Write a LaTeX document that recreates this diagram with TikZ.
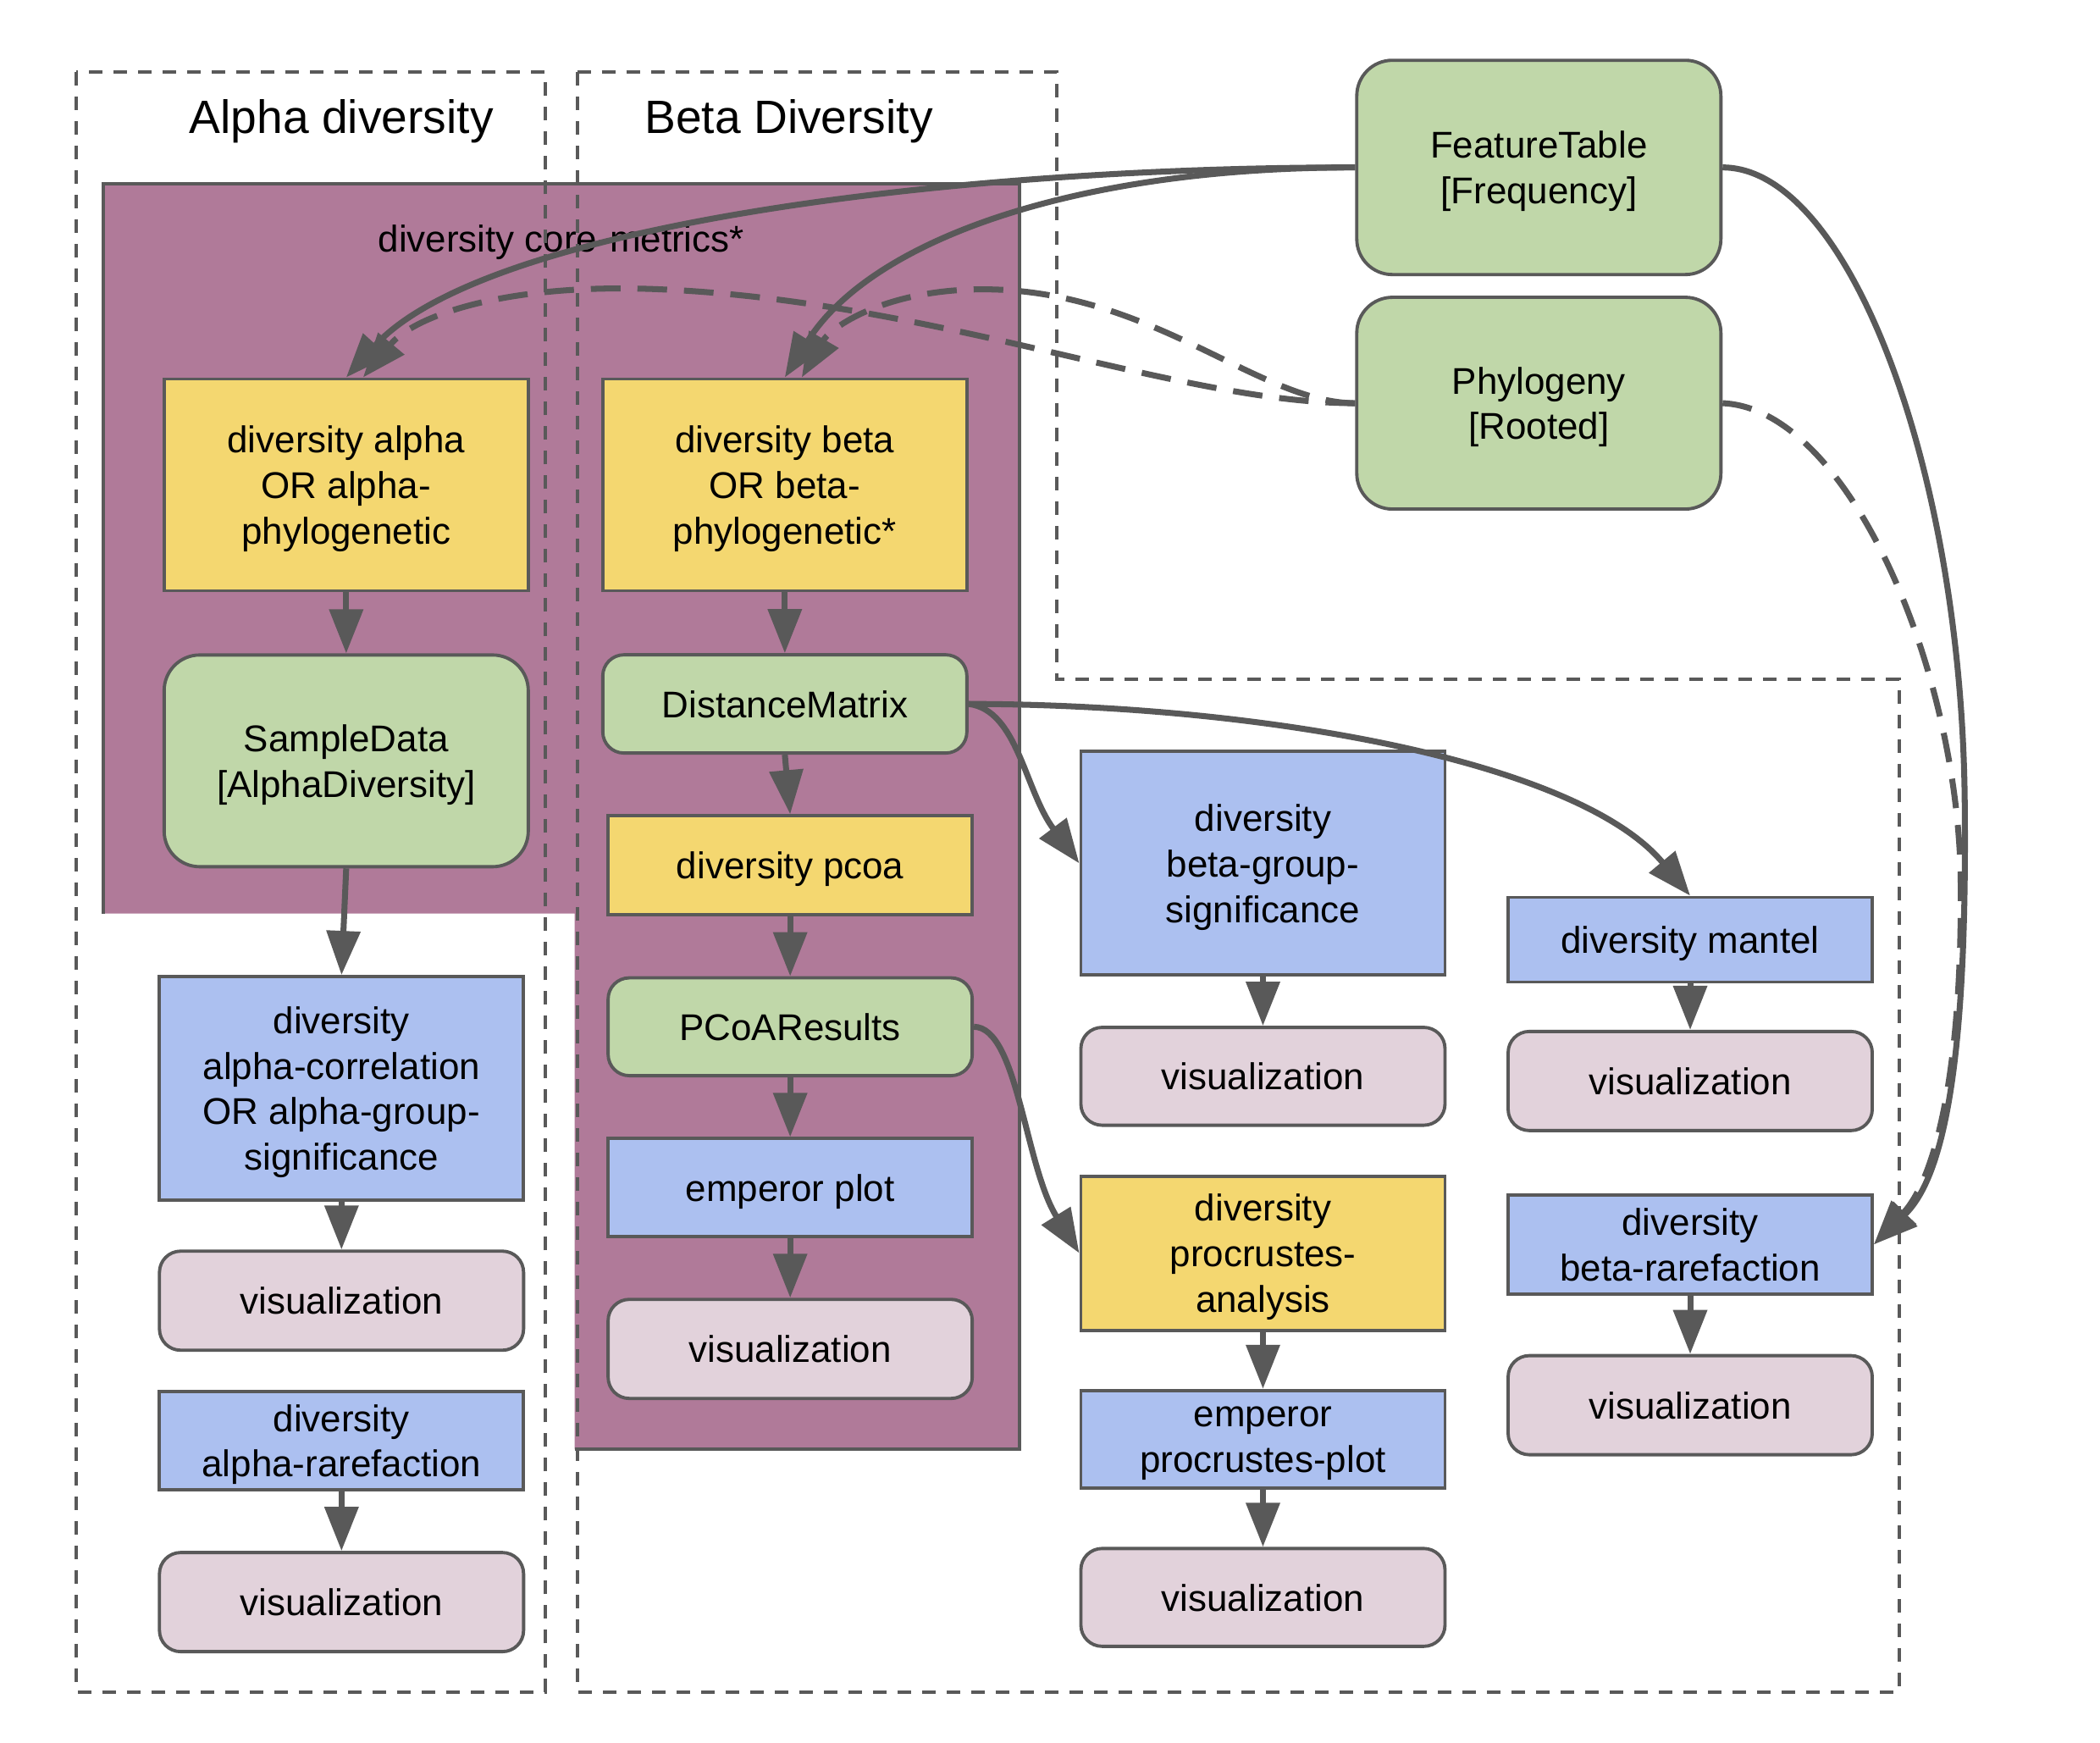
\documentclass[tikz,border=0pt]{standalone}
\usepackage{fontspec}
\setmainfont{Liberation Sans}
\usepackage{xcolor}
\usepackage{tikz}
\usetikzlibrary{arrows.meta}

\definecolor{linegray}{HTML}{595959}
\definecolor{coreviolet}{HTML}{B07A99}
\definecolor{artgreen}{HTML}{C0D7A9}
\definecolor{actyellow}{HTML}{F4D770}
\definecolor{visblue}{HTML}{ACC0F0}
\definecolor{vismauve}{HTML}{E2D2DB}
\newcommand{\boxfont}{\fontsize{12.5}{15.3}\selectfont}
\newcommand{\titlefont}{\fontsize{15.7}{18}\selectfont}

\begin{document}
\begin{tikzpicture}[x=1.5816mm, y=-1.5816mm,
	base/.style={draw=linegray, line width=1.1pt, font=\boxfont, align=center, inner sep=0pt, text depth=0pt, minimum width=4.3cm},
	artifact/.style={base, fill=artgreen, rounded corners=0.42cm},
	smallartifact/.style={base, fill=artgreen, rounded corners=0.25cm},
	action/.style={base, fill=actyellow},
	visaction/.style={base, fill=visblue},
	vis/.style={base, fill=vismauve, rounded corners=0.25cm, minimum height=1.17cm},
	grouptitle/.style={font=\titlefont, text depth=0pt},
	flow/.style={draw=linegray, line width=2pt, -{Triangle[length=5.2mm, width=3.9mm]}},
	optflow/.style={flow, dash pattern=on 3.5mm off 2mm},
	cluster/.style={draw=linegray, line width=1.1pt, dash pattern=on 1.6mm off 1.3mm}]
	\useasboundingbox (0,0) rectangle (156.8,130.1);

	% core-metrics block
	\fill[coreviolet] (7.7,13.7) -- (76.1,13.7) -- (76.1,108.2) -- (42.9,108.2) -- (42.9,68.2) -- (7.7,68.2) -- cycle;
	\draw[linegray, line width=1.1pt] (42.9,108.2) -- (76.1,108.2) -- (76.1,13.7) -- (7.7,13.7) -- (7.7,68.2);
	\node[font=\boxfont, text depth=0pt] (coretitle) at (41.9,17.8) {diversity core-metrics*};

	% Dashed groups
	\draw[cluster] (5.7,5.4) rectangle (40.7,126.3);
	\draw[cluster] (43.1,5.4) -- (78.9,5.4) -- (78.9,50.7) -- (141.8,50.7) -- (141.8,126.3) -- (43.1,126.3) -- cycle;
	\node[grouptitle] (alphatitle) at (25.5,8.7) {Alpha diversity};
	\node[grouptitle] (betatitle) at (58.9,8.7) {Beta Diversity};

	% Inputs
	\node[artifact, minimum height=2.53cm] (ft) at (114.9,12.5) {FeatureTable\\{[Frequency]}};
	\node[artifact, minimum height=2.5cm] (phylo) at (114.9,30.1) {Phylogeny\\{[Rooted]}};

	% Alpha column
	\node[action, minimum height=2.5cm] (alpha) at (25.85,36.2) {diversity alpha\\OR alpha-\\phylogenetic};
	\node[artifact, minimum height=2.5cm] (sample) at (25.85,56.8) {SampleData\\{[AlphaDiversity]}};
	\node[visaction, minimum height=2.64cm] (acorr) at (25.5,81.25) {diversity\\alpha-correlation\\OR alpha-group-\\significance};
	\node[vis] (visacorr) at (25.5,97.1) {visualization};
	\node[visaction, minimum height=1.155cm] (arare) at (25.5,107.55) {diversity\\alpha-rarefaction};
	\node[vis] (visarare) at (25.5,119.6) {visualization};

	% Beta column
	\node[action, minimum height=2.5cm] (beta) at (58.6,36.2) {diversity beta\\OR beta-\\phylogenetic*};
	\node[smallartifact, minimum height=1.16cm] (dm) at (58.6,52.55) {DistanceMatrix};
	\node[action, minimum height=1.17cm] (pcoa) at (59.0,64.6) {diversity pcoa};
	\node[smallartifact, minimum height=1.155cm] (pcoares) at (59.0,76.65) {PCoAResults};
	\node[visaction, minimum height=1.155cm] (emperor) at (59.0,88.65) {emperor plot};
	\node[vis] (visemperor) at (59.0,100.7) {visualization};

	% DistanceMatrix / PCoA consumers
	\node[visaction, minimum height=2.64cm] (bgs) at (94.3,64.45) {diversity\\beta-group-\\significance};
	\node[vis, minimum height=1.155cm] (visbgs) at (94.3,80.35) {visualization};
	\node[action, minimum height=1.82cm] (procr) at (94.3,93.55) {diversity\\procrustes-\\analysis};
	\node[visaction, minimum height=1.155cm] (epp) at (94.3,107.45) {emperor\\procrustes-plot};
	\node[vis, minimum height=1.155cm] (visepp) at (94.3,119.25) {visualization};
	\node[visaction, minimum height=1.0cm] (mantel) at (126.2,70.15) {diversity mantel};
	\node[vis] (vismantel) at (126.2,80.7) {visualization};
	\node[visaction, minimum height=1.17cm] (brare) at (126.2,92.9) {diversity\\beta-rarefaction};
	\node[vis] (visbrare) at (126.2,104.9) {visualization};

	% Table and tree into core-metrics
	\draw[flow] (ft.west) .. controls (70,12.5) and (36,17) .. (alpha.north);
	\draw[flow] (ft.west) .. controls (80,12.5) and (65,18) .. (beta.north);
	\draw[optflow] (phylo.west) .. controls (88,30.1) and (70,22.5) .. (49.3,21.6) .. controls (38,21.1) and (31,23.5) .. ([xshift=2mm]alpha.north);
	\draw[optflow] (phylo.west) .. controls (94,30.1) and (86,21.6) .. (73.4,21.6) .. controls (66,21.6) and (62,24.5) .. ([xshift=2mm]beta.north);

	% Table and tree into beta-rarefaction
	\draw[flow] (ft.east) .. controls (138,12.5) and (146.5,35) .. (146.7,60) .. controls (146.9,80) and (145,88) .. (brare.east);
	\draw[optflow] (phylo.east) .. controls (138,30.5) and (146.3,50) .. (146.4,66) .. controls (146.5,80) and (144.5,88) .. (brare.east);

	% Side branches
	\draw[flow] (dm.east) .. controls (76,53) and (76.5,59) .. (bgs.west);
	\draw[flow] (dm.east) .. controls (95,52.6) and (118,57) .. (mantel.north);
	\draw[flow] (pcoares.east) .. controls (76,76.7) and (76.5,87) .. (procr.west);

	% Straight steps
	\draw[flow] (alpha.south) -- (sample.north);
	\draw[flow] (sample.south) -- (acorr.north);
	\draw[flow] (acorr.south) -- (visacorr.north);
	\draw[flow] (arare.south) -- (visarare.north);
	\draw[flow] (beta.south) -- (dm.north);
	\draw[flow] (dm.south) -- (pcoa.north);
	\draw[flow] (pcoa.south) -- (pcoares.north);
	\draw[flow] (pcoares.south) -- (emperor.north);
	\draw[flow] (emperor.south) -- (visemperor.north);
	\draw[flow] (bgs.south) -- (visbgs.north);
	\draw[flow] (procr.south) -- (epp.north);
	\draw[flow] (epp.south) -- (visepp.north);
	\draw[flow] (mantel.south) -- (vismantel.north);
	\draw[flow] (brare.south) -- (visbrare.north);
\end{tikzpicture}
\end{document}
